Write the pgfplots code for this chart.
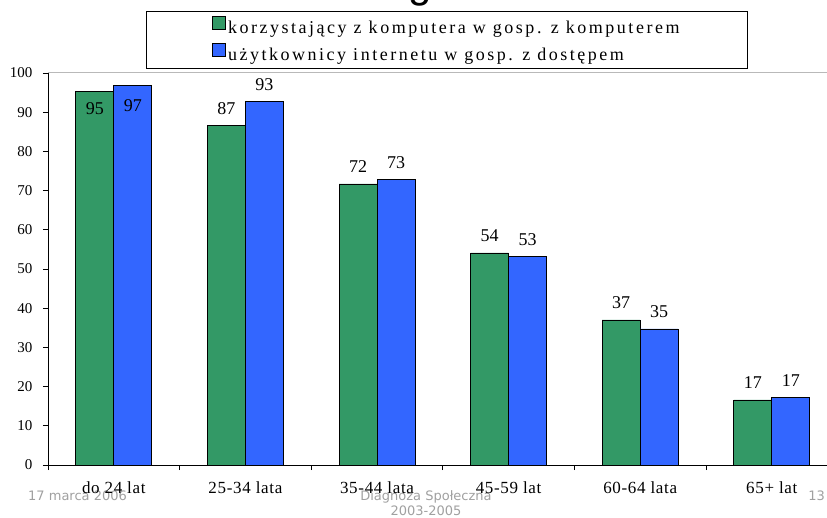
\documentclass[border=0pt]{standalone}
\usepackage{pgfplots}
\pgfplotsset{compat=1.18}
\usepackage{pgfplotstable}
\usepackage{fontspec}
\setmainfont{Liberation Serif}
\newfontfamily\footfont{DejaVu Sans}
\newfontfamily\titlefont{Liberation Sans}
\newfontfamily\legfont{Liberation Serif}[LetterSpace=14]
\newfontfamily\catfont{Liberation Serif}[LetterSpace=4]
\newfontfamily\tickfont{Liberation Serif}
\definecolor{bargreen}{RGB}{51,153,102}
\definecolor{barblue}{RGB}{51,102,255}
\definecolor{footgray}{RGB}{160,160,160}
\definecolor{bordergray}{RGB}{185,185,185}

\pgfplotstableread{
x g b og ob
0 95.2 96.8 -23 -26
1 86.6 92.7 11 11
2 71.7 72.9 11 11
3 54.1 53.1 11 11
4 37.0 34.7 11 11
5 16.6 17.3 11 11
}\datatable

\begin{document}
\begin{tikzpicture}
\useasboundingbox (0pt,0pt) rectangle (827pt,517pt);
\clip (0pt,0pt) rectangle (827pt,517pt);
\node[font=\titlefont\fontsize{42}{42}\selectfont, anchor=base, inner sep=0pt] at (420pt,519pt) {g};
\begin{scope}[every node/.style={inner sep=0pt, text=footgray}]
\node[font=\footfont\fontsize{13}{15}\selectfont, anchor=base west] at (28pt,17pt) {17 marca 2006};
\node[font=\footfont\fontsize{13}{15}\selectfont, anchor=base] at (426pt,17pt) {Diagnoza Społeczna};
\node[font=\footfont\fontsize{13}{15}\selectfont, anchor=base] at (426pt,2pt) {2003-2005};
\node[font=\footfont\fontsize{13}{15}\selectfont, anchor=base east] at (825pt,17pt) {13};
\end{scope}
\begin{axis}[
  at={(48pt,52pt)}, anchor=south west,
  scale only axis, width=789.6pt, height=392pt,
  ybar=0pt, bar width=38pt,
  xmin=-0.5, xmax=5.5, ymin=0, ymax=100,
  axis x line*=bottom, axis y line*=left,
  axis line style={-, black, line width=0.8pt},
  every outer x axis line/.append style={-},
  every outer y axis line/.append style={-},
  xtick pos=bottom, ytick pos=left,
  tick align=outside, major tick length=5pt,
  tick style={black, line width=0.8pt},
  ytick={0,10,...,100},
  yticklabel={\tickfont\pgfmathprintnumber[assume math mode=true]{\tick}},
  yticklabel style={font=\tickfont\fontsize{15}{17}\selectfont, xshift=-7pt},
  xtick={-0.5,0.5,...,5.5}, xticklabels={},
  extra x ticks={0,1,2,3,4,5},
  extra x tick labels={do 24 lat,25-34 lata,35-44 lata,45-59 lat,60-64 lata,65+ lat},
  extra x tick style={major tick length=0pt, tick label style={font=\catfont\fontsize{17}{19}\selectfont, anchor=base, yshift=-28pt}},
  /pgf/number format/assume math mode=true,
  clip=false,
  point meta=y,
  nodes near coords={\pgfmathprintnumber[fixed,precision=0]{\pgfplotspointmeta}},
  nodes near coords style={font=\tickfont\fontsize{18}{20}\selectfont, anchor=base, text=black},
  legend style={at={(axis description cs:0.5053,1.0845)}, anchor=center, draw=black, line width=0.8pt,
    font=\legfont\fontsize{18}{20}\selectfont, inner xsep=66pt, inner ysep=4pt, row sep=6pt},
  legend cell align=left,
  legend image code/.code={\draw[#1, draw=black, line width=0.6pt] (0pt,-1pt) rectangle (13pt,12pt);},
]
\addplot[fill=bargreen, draw=black, line width=0.75pt,
  visualization depends on={\thisrow{og} \as \myoff},
  every node near coord/.append style={yshift=\myoff}]
  table[x=x, y=g] {\datatable};
\addplot[fill=barblue, draw=black, line width=0.75pt,
  visualization depends on={\thisrow{ob} \as \myoff},
  every node near coord/.append style={yshift=\myoff}]
  table[x=x, y=b] {\datatable};
\legend{korzystający z komputera w gosp. z komputerem, użytkownicy internetu w gosp. z dostępem}
\draw[bordergray, line width=1pt] (rel axis cs:0,1) -- (rel axis cs:1,1);
\end{axis}
\end{tikzpicture}
\end{document}
